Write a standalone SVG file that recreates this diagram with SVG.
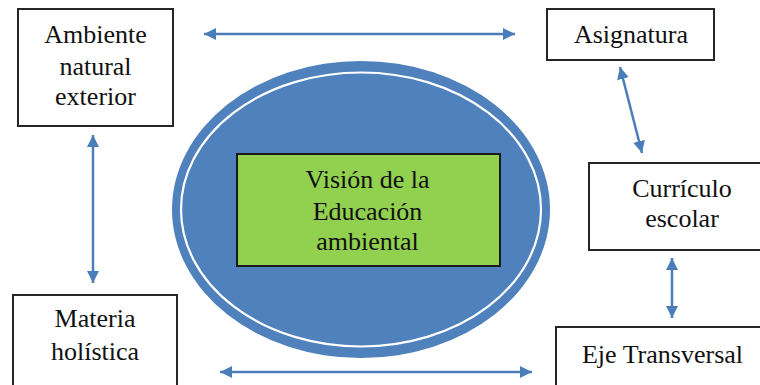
<svg xmlns="http://www.w3.org/2000/svg" width="760" height="385" viewBox="0 0 760 385">
<style>
.box{fill:#fff;stroke:#262626;stroke-width:2}
.c{stroke:#4a7ebb;stroke-width:2.5;fill:none;marker-start:url(#ah);marker-end:url(#ah)}
</style>
<defs>
<marker id="ah" viewBox="0 0 10 10" refX="10" refY="5" markerWidth="4.8" markerHeight="4.8" orient="auto-start-reverse">
<path d="M0,0 L10,5 L0,10 z" fill="#4a7ebb"/>
</marker>
</defs>
<rect width="760" height="385" fill="#fff"/>
<g id="center">
<ellipse cx="361" cy="209.5" rx="189" ry="148.5" fill="#4f81bd"/>
<ellipse cx="361" cy="209.5" rx="180" ry="137" fill="none" stroke="#fff" stroke-width="2.2"/>
</g>
<g id="vision">
<rect x="237" y="154" width="263" height="112" fill="#92d050" stroke="#1a1a1a" stroke-width="2"/>
<text x="367.5" y="188" font-family="Liberation Serif" font-size="26" fill="#111" text-anchor="middle">Visión de la</text>
<text x="367.5" y="220" font-family="Liberation Serif" font-size="26" fill="#111" text-anchor="middle">Educación</text>
<text x="367.5" y="250" font-family="Liberation Serif" font-size="26" fill="#111" text-anchor="middle">ambiental</text>
</g>
<g id="ambiente">
<rect class="box" x="18" y="9" width="155" height="117"/>
<text x="95.5" y="43" font-family="Liberation Serif" font-size="26" fill="#111" text-anchor="middle">Ambiente</text>
<text x="95.5" y="75" font-family="Liberation Serif" font-size="26" fill="#111" text-anchor="middle">natural</text>
<text x="95.5" y="105" font-family="Liberation Serif" font-size="26" fill="#111" text-anchor="middle">exterior</text>
</g>
<g id="asignatura">
<rect class="box" x="547" y="9" width="167" height="51"/>
<text x="631" y="43" font-family="Liberation Serif" font-size="26" fill="#111" text-anchor="middle">Asignatura</text>
</g>
<g id="curriculo">
<rect class="box" x="589" y="163" width="175" height="87"/>
<text x="682" y="197" font-family="Liberation Serif" font-size="26" fill="#111" text-anchor="middle">Currículo</text>
<text x="682" y="227" font-family="Liberation Serif" font-size="26" fill="#111" text-anchor="middle">escolar</text>
</g>
<g id="eje">
<rect class="box" x="556" y="327" width="208" height="70"/>
<text x="662.5" y="363" font-family="Liberation Serif" font-size="26" fill="#111" text-anchor="middle">Eje Transversal</text>
</g>
<g id="materia">
<rect class="box" x="13" y="295" width="164" height="100"/>
<text x="95" y="327" font-family="Liberation Serif" font-size="26" fill="#111" text-anchor="middle">Materia</text>
<text x="95" y="360" font-family="Liberation Serif" font-size="26" fill="#111" text-anchor="middle">holística</text>
</g>
<g id="connectors">
<line class="c" x1="204" y1="34" x2="515" y2="34"/>
<line class="c" x1="220" y1="372" x2="532" y2="372"/>
<line class="c" x1="93" y1="135" x2="93" y2="283"/>
<line class="c" x1="620" y1="67" x2="642" y2="153"/>
<line class="c" x1="672" y1="258" x2="672" y2="318"/>
</g>
</svg>
